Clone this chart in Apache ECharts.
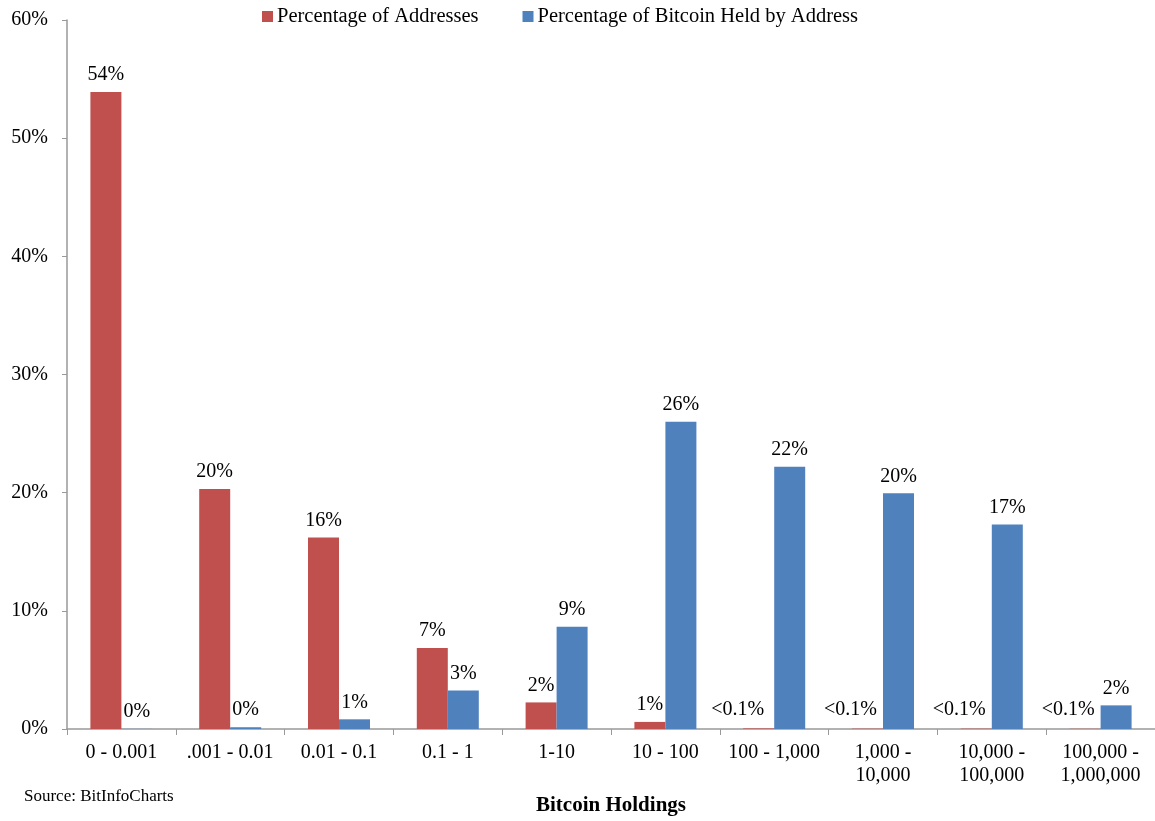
<!DOCTYPE html>
<html>
<head>
<meta charset="utf-8">
<script src="https://cdn.jsdelivr.net/npm/echarts@6/dist/echarts.min.js"></script>
<style>
html,body{margin:0;padding:0;background:#fff;overflow:hidden;}
#chart{width:1155px;height:821px;}
</style>
</head>
<body>
<div id="chart"></div>
<script>
const categories = ['0 - 0.001', '.001 - 0.01', '0.01 - 0.1', '0.1 - 1', '1-10', '10 - 100', '100 - 1,000', '1,000 -\n10,000', '10,000 -\n100,000', '100,000 -\n1,000,000'];
const addressesPct = [53.9, 20.3, 16.2, 6.85, 2.25, 0.6, 0.05, 0.03, 0.03, 0.02];
const addressesLabels = ['54%', '20%', '16%', '7%', '2%', '1%', '<0.1%', '<0.1%', '<0.1%', '<0.1%'];
const bitcoinPct = [0.01, 0.15, 0.82, 3.25, 8.65, 26.0, 22.2, 19.95, 17.3, 2.0];
const bitcoinLabels = ['0%', '0%', '1%', '3%', '9%', '26%', '22%', '20%', '17%', '2%'];
const yTicks = [0, 10, 20, 30, 40, 50, 60];

const FONT = '"Liberation Serif", "Times New Roman", serif';
const chart = echarts.init(document.getElementById('chart'));

const redData = addressesPct.map((v, i) => {
  const lbl = addressesLabels[i];
  const item = { value: v };
  if (lbl.startsWith('<')) item.label = { offset: [i === 6 ? -21 : -17, -2] };
  return item;
});

chart.setOption({
  animation: false,
  textStyle: { fontFamily: FONT },
  legend: {
    top: 1,
    left: 257,
    itemWidth: 11,
    itemHeight: 11,
    itemGap: 44,
    icon: 'rect',
    textStyle: { fontFamily: FONT, fontSize: 20.5, color: '#000', padding: [0, 0, 0, -1] },
    data: ['Percentage of Addresses', 'Percentage of Bitcoin Held by Address']
  },
  grid: { left: 67, top: 20, width: 1094, height: 713, containLabel: false },
  xAxis: {
    type: 'category',
    data: categories,
    name: 'Bitcoin Holdings',
    nameLocation: 'middle',
    nameGap: 66,
    nameTextStyle: { fontFamily: FONT, fontSize: 21, fontWeight: 'bold', color: '#000' },
    axisLine: { lineStyle: { color: '#999', width: 1.5 } },
    axisTick: { show: true, length: 6, lineStyle: { color: '#999' } },
    axisLabel: { fontFamily: FONT, fontSize: 20, color: '#000', margin: 12, lineHeight: 23, interval: 0 }
  },
  yAxis: {
    type: 'value',
    min: yTicks[0],
    max: yTicks[yTicks.length - 1],
    interval: 10,
    splitLine: { show: false },
    axisLine: { show: true, lineStyle: { color: '#999', width: 1.5 } },
    axisTick: { show: true, length: 5, lineStyle: { color: '#999' } },
    axisLabel: { fontFamily: FONT, fontSize: 20, color: '#000', margin: 19, formatter: v => v + '%' }
  },
  graphic: [{
    type: 'text',
    left: 24,
    top: 788,
    style: { text: 'Source: BitInfoCharts', fontFamily: FONT, fontSize: 17, fill: '#000' }
  }],
  series: [
    {
      name: 'Percentage of Addresses',
      type: 'bar',
      data: redData,
      barWidth: 31,
      barGap: '0%',
      itemStyle: { color: '#C0504D' },
      label: {
        show: true, position: 'top', distance: 7,
        fontFamily: FONT, fontSize: 20, color: '#000',
        formatter: p => addressesLabels[p.dataIndex]
      }
    },
    {
      name: 'Percentage of Bitcoin Held by Address',
      type: 'bar',
      data: bitcoinPct,
      barWidth: 31,
      itemStyle: { color: '#4F81BD' },
      label: {
        show: true, position: 'top', distance: 7,
        fontFamily: FONT, fontSize: 20, color: '#000',
        formatter: p => bitcoinLabels[p.dataIndex]
      }
    }
  ]
});
</script>
</body>
</html>
